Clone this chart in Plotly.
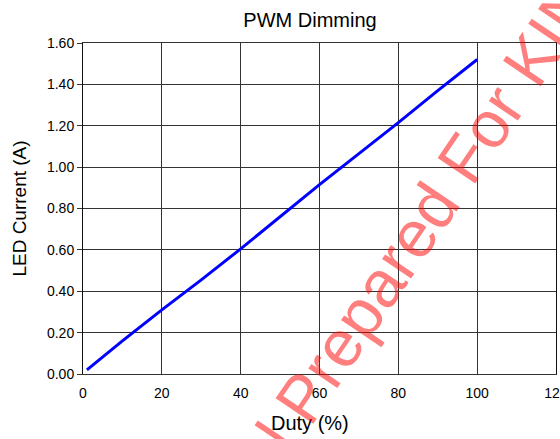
import plotly.graph_objects as go

duty = [1, 10, 20, 30, 40, 50, 60, 70, 80, 90, 100]
current = [0.02, 0.16, 0.31, 0.455, 0.605, 0.76, 0.915, 1.065, 1.215, 1.37, 1.52]

x_ticks = [0, 20, 40, 60, 80, 100, 120]
y_ticks = [0.0, 0.2, 0.4, 0.6, 0.8, 1.0, 1.2, 1.4, 1.6]

FONT = "Liberation Sans, Arial, sans-serif"

fig = go.Figure()
fig.add_trace(go.Scatter(x=duty, y=current, mode="lines",
                         line=dict(color="#0000ff", width=3), showlegend=False))

fig.update_layout(
    width=560, height=439,
    margin=dict(l=83, r=4, t=43, b=65, autoexpand=False),
    paper_bgcolor="white", plot_bgcolor="white",
    font=dict(family=FONT, color="black"),
    title=dict(text="PWM Dimming", x=310/560, xanchor="center", xref="container",
               y=1 - 20/439, yanchor="middle", font=dict(size=20, color="black")),
)
fig.update_xaxes(range=[0, 120], tickvals=x_ticks, ticktext=[str(v) for v in x_ticks],
                 automargin=False,
                 showgrid=True, gridcolor="#333333", gridwidth=1,
                 showline=True, linecolor="#333333", linewidth=1, mirror=True,
                 zeroline=False, ticks="", tickfont=dict(size=14),
                 ticklabeloverflow="allow", ticklabelstandoff=6)
fig.update_yaxes(range=[0, 1.6], tickvals=y_ticks, tickformat=".2f",
                 automargin=False,
                 showgrid=True, gridcolor="#333333", gridwidth=1,
                 showline=True, linecolor="#111111", linewidth=1, mirror=True,
                 zeroline=False, ticks="outside", ticklen=5, tickcolor="#333333",
                 tickfont=dict(size=14),
                 title=dict(text="LED Current (A)", font=dict(size=19), standoff=15))

# x-axis title (placed slightly left of the plot centre, as in the original)
fig.add_annotation(text="Duty (%)", xref="paper", yref="paper",
                   x=(310-83)/473, y=(374-423)/331, xanchor="center", yanchor="middle",
                   showarrow=False, font=dict(size=20, color="black", family=FONT))

# watermark
fig.add_annotation(text="Confidential Prepared For KINETIC", xref="paper", yref="paper",
                   x=(375-83)/473, y=(374-291)/331, xanchor="center", yanchor="middle",
                   textangle=-56, showarrow=False,
                   font=dict(size=66, color="rgba(255,0,0,0.5)", family=FONT))

fig.write_html("out.html")
